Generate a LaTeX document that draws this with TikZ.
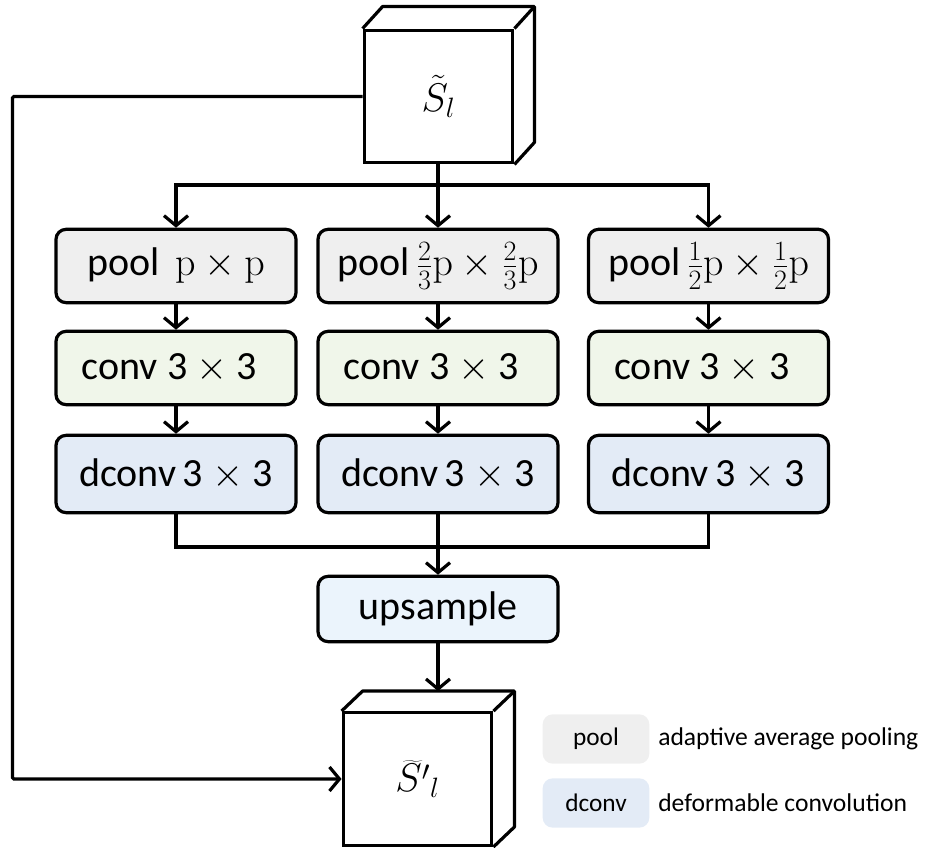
\RequirePackage{fix-cm}
\documentclass[tikz,border=0pt]{standalone}
\usepackage[no-math]{fontspec}
\setmainfont{Carlito}
\usetikzlibrary{arrows.meta,positioning,calc}

\definecolor{poolfill}{HTML}{EFEFEF}
\definecolor{convfill}{HTML}{F0F6EA}
\definecolor{dconvfill}{HTML}{E3EBF6}
\definecolor{upfill}{HTML}{EBF4FC}

\tikzset{
  opbox/.style={draw, line width=2.4pt, rounded corners=7.5pt, inner sep=0pt,
    minimum width=180pt, minimum height=55pt, font=\fontsize{30}{36}\selectfont},
  poolbox/.style={opbox, fill=poolfill},
  convbox/.style={opbox, fill=convfill},
  dconvbox/.style={opbox, fill=dconvfill},
  upbox/.style={opbox, fill=upfill, minimum height=49pt},
  cube/.style={draw, line width=2.4pt, fill=white, inner sep=0pt,
    minimum width=111.5pt, minimum height=99.5pt, font=\fontsize{30}{36}\selectfont},
  cubeline/.style={line width=2.4pt, line join=round},
  link/.style={line width=2.4pt},
  arr/.style={link, -{Straight Barb[length=7.5pt,width=18pt]}},
  keybox/.style={fill=#1, rounded corners=7.5pt, inner sep=0pt,
    minimum width=80pt, minimum height=37pt, font=\fontsize{19}{23}\selectfont},
  keytext/.style={anchor=west, inner sep=0pt, font=\fontsize{19.2}{23}\selectfont}
}

\begin{document}
\begin{tikzpicture}[x=0.75pt, y=-0.75pt]
  \useasboundingbox (0,0) rectangle (936,848);

  \pgfmathsetmacro {\ca}{176}   %column 1
  \pgfmathsetmacro {\cb}{438}   %column 2
  \pgfmathsetmacro {\cc}{708.5} %column 3
  \pgfmathsetmacro {\ra}{266}   %pool row
  \pgfmathsetmacro {\rb}{368}   %conv row
  \pgfmathsetmacro {\rc}{474}   %dconv row
  \pgfmathsetmacro {\dx}{20}    %cube depth, x
  \pgfmathsetmacro {\dy}{-22}   %cube depth, y

  %Input feature cube
  \node[cube] (Sl) at (438.5,96.5) {$\tilde{S}_{l}$};
  \draw[cubeline] (Sl.north west) -- ++(\dx,\dy) -- ($(Sl.north east)+(\dx,\dy)$)
    -- ($(Sl.south east)+(\dx,\dy)$) -- (Sl.south east);
  \draw[cubeline] (Sl.north east) -- ++(\dx,\dy);

  %Pooling branches
  \node[poolbox] (pa) at (\ca,\ra) {pool\, $\mathrm{p}\times\mathrm{p}$};
  \node[poolbox] (pb) at (\cb,\ra) {pool\,$\frac{2}{3}\mathrm{p}\times\frac{2}{3}\mathrm{p}$};
  \node[poolbox] (pc) at (\cc,\ra) {pool\,$\frac{1}{2}\mathrm{p}\times\frac{1}{2}\mathrm{p}$};

  \node[convbox] (ca) at (\ca,\rb) {conv 3 $\times$ 3\,\,};
  \node[convbox] (cb) at (\cb,\rb) {conv 3 $\times$ 3\,\,};
  \node[convbox] (cc) at (\cc,\rb) {conv 3 $\times$ 3\,\,};

  \node[dconvbox, minimum height=58pt] (da) at (\ca,\rc) {dconv\,3 $\times$ 3};
  \node[dconvbox, minimum height=58pt] (db) at (\cb,\rc) {dconv\,3 $\times$ 3};
  \node[dconvbox, minimum height=58pt] (dc) at (\cc,\rc) {dconv\,3 $\times$ 3};

  \node[upbox] (up) at (438,609) {upsample};

  %Output feature cube
  \node[cube] (Slp) at (417.5,779) {$\widetilde{S'}_{l}$};
  \draw[cubeline] (Slp.north west) -- ++(\dx+1,\dy+2) -- ($(Slp.north east)+(\dx+1,\dy+2)$)
    -- ($(Slp.south east)+(\dx+1,\dy+2)$) -- (Slp.south east);
  \draw[cubeline] (Slp.north east) -- ++(\dx+1,\dy+2);
  \coordinate (Slptop) at ($(Slp.north)+(0,-20)$);

  %Split into the three branches
  \coordinate (split) at (438,185);
  \draw[link] (Sl.south -| split) -- (split);
  \draw[arr] (split) -| (pa.north);
  \draw[arr] (split) -| (pc.north);
  \draw[arr] (split) -- (pb.north);

  \foreach \c in {a,b,c}{
    \draw[arr] (p\c.south) -- (c\c.north);
    \draw[arr] (c\c.south) -- (d\c.north);
  }

  %Merge and upsample
  \coordinate (merge) at (438,547);
  \draw[link] (da.south) |- (merge) -| (dc.south);
  \draw[link] (db.south) -- (merge);
  \draw[arr] (merge) -- (up.north);
  \draw[arr] (up.south) -- (up.south |- Slptop);

  %Skip connection
  \draw[arr, rounded corners=1pt] (Sl.west) -- ++(-350,0) |- (Slp.west);

  %Legend
  \node[keybox=poolfill] (kpool) at (596,739) {pool};
  \node[keybox=dconvfill] (kdconv) at (596,803) {dconv};
  \node[keytext] (tpool) at (658,739) {adaptive average pooling};
  \node[keytext] (tdconv) at (658,803) {deformable convolution};
\end{tikzpicture}
\end{document}
